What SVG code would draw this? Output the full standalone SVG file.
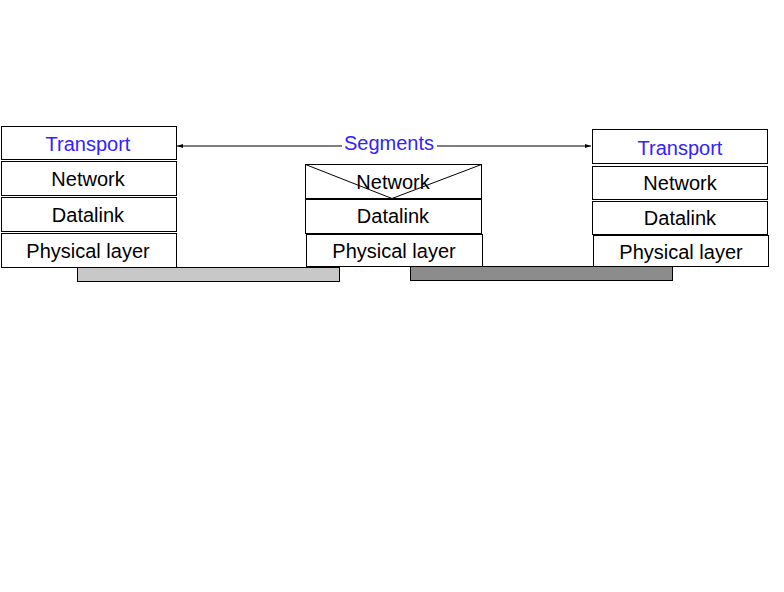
<svg xmlns="http://www.w3.org/2000/svg" width="784" height="592" viewBox="0 0 784 592">
<style>
.box{fill:#fff;stroke:#000;stroke-width:1}
.t{font-family:"Liberation Sans",Arial,sans-serif;font-size:20px;text-anchor:middle;fill:#000}
.b{fill:#3322ff}
.ln{stroke:#000;stroke-width:1;fill:none}
</style>
<defs>
<marker id="ah" viewBox="0 0 6 6" refX="6" refY="3" markerWidth="6" markerHeight="6" orient="auto-start-reverse" markerUnits="userSpaceOnUse">
<path d="M0,1 L6,3 L0,5 z" fill="#000"/>
</marker>
</defs>
<rect width="784" height="592" fill="#fff"/>
<g id="bar-left"><rect x="77.5" y="267.5" width="262" height="14" fill="#c8c8c8" stroke="#000"/></g>
<g id="bar-right"><rect x="410.5" y="266.5" width="262" height="14" fill="#8c8c8c" stroke="#000"/></g>
<g id="left-transport"><rect class="box" x="1.5" y="126.5" width="175" height="33"/><text class="t b" x="88" y="151">Transport</text></g>
<g id="left-network"><rect class="box" x="1.5" y="161.5" width="175" height="34"/><text class="t" x="88" y="186">Network</text></g>
<g id="left-datalink"><rect class="box" x="1.5" y="197.5" width="175" height="34"/><text class="t" x="88" y="222">Datalink</text></g>
<g id="left-physical"><rect class="box" x="1.5" y="233.5" width="175" height="34"/><text class="t" x="88" y="258">Physical layer</text></g>
<g id="mid-network"><rect class="box" x="305.5" y="164.5" width="176" height="34"/><path class="ln" d="M305.5,164.5 L392,198.5 L481.5,164.5"/><text class="t" x="393" y="189">Network</text></g>
<g id="mid-datalink"><rect class="box" x="305.5" y="199.5" width="176" height="34"/><text class="t" x="393" y="223">Datalink</text></g>
<g id="mid-physical"><rect class="box" x="306.5" y="234.5" width="176" height="32"/><text class="t" x="394" y="258">Physical layer</text></g>
<g id="right-transport"><rect class="box" x="592.5" y="129.5" width="175" height="34"/><text class="t b" x="680" y="155">Transport</text></g>
<g id="right-network"><rect class="box" x="592.5" y="166.5" width="175" height="33"/><text class="t" x="680" y="190">Network</text></g>
<g id="right-datalink"><rect class="box" x="592.5" y="201.5" width="175" height="33"/><text class="t" x="680" y="225">Datalink</text></g>
<g id="right-physical"><rect class="box" x="593.5" y="235.5" width="175" height="31"/><text class="t" x="681" y="259">Physical layer</text></g>
<g id="connectors">
<line class="ln" x1="342" y1="146" x2="177" y2="146" marker-end="url(#ah)"/>
<line class="ln" x1="437" y1="146" x2="591" y2="146" marker-end="url(#ah)"/>
<text class="t b" x="389" y="150">Segments</text>
</g>
</svg>
